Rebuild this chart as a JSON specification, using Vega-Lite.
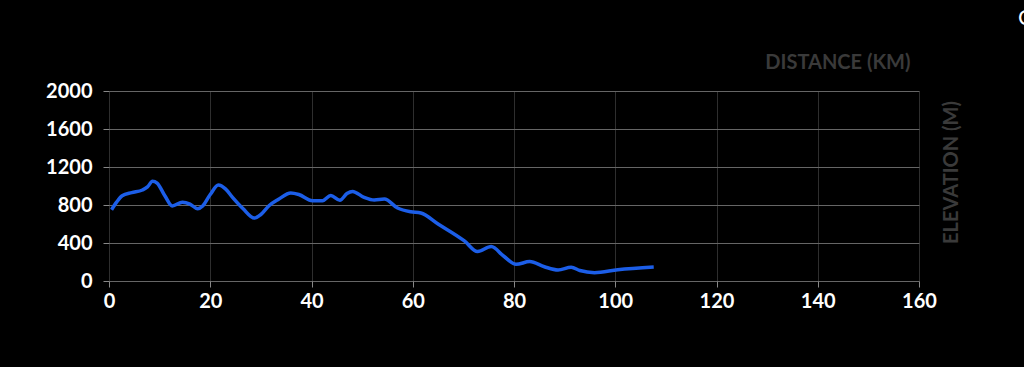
{
  "$schema": "https://vega.github.io/schema/vega-lite/v6.json",
  "width": 810,
  "height": 190,
  "autosize": {"type": "none"},
  "padding": {"left": 109, "top": 91, "right": 105, "bottom": 86},
  "background": "#000000",
  "title": {"text": "C", "anchor": "end", "align": "left", "dx": 99, "offset": 22, "frame": "group", "color": "#ffffff", "fontSize": 22, "font": "Lato", "fontWeight": "normal"},
  "config": {"view": {"stroke": null}},
  "data": {"values": [
    {"km": 0.5, "elev": 750}, {"km": 1.5, "elev": 830}, {"km": 2.6, "elev": 897}, {"km": 4.5, "elev": 930},
    {"km": 6.6, "elev": 958}, {"km": 7.6, "elev": 990}, {"km": 8.6, "elev": 1049}, {"km": 9.5, "elev": 1030},
    {"km": 11, "elev": 900}, {"km": 12.5, "elev": 790}, {"km": 14.5, "elev": 830}, {"km": 16, "elev": 810},
    {"km": 17.5, "elev": 760}, {"km": 18.5, "elev": 790}, {"km": 20, "elev": 910}, {"km": 21.6, "elev": 1010},
    {"km": 23, "elev": 970}, {"km": 24.4, "elev": 880}, {"km": 26.5, "elev": 760}, {"km": 28.7, "elev": 662},
    {"km": 30, "elev": 700}, {"km": 31.6, "elev": 792}, {"km": 33.5, "elev": 860}, {"km": 35.9, "elev": 926},
    {"km": 37.5, "elev": 910}, {"km": 40.2, "elev": 845}, {"km": 42.2, "elev": 845}, {"km": 43.8, "elev": 900},
    {"km": 45.6, "elev": 850}, {"km": 47, "elev": 920}, {"km": 48.1, "elev": 943}, {"km": 50.4, "elev": 880},
    {"km": 52.4, "elev": 852}, {"km": 54.4, "elev": 862}, {"km": 57.0, "elev": 768}, {"km": 59.6, "elev": 728},
    {"km": 61.6, "elev": 715}, {"km": 65, "elev": 600}, {"km": 70.2, "elev": 422}, {"km": 72.8, "elev": 310},
    {"km": 75.5, "elev": 362}, {"km": 78, "elev": 260}, {"km": 80.4, "elev": 176}, {"km": 83.1, "elev": 204},
    {"km": 86, "elev": 150}, {"km": 88.7, "elev": 116}, {"km": 91.3, "elev": 145}, {"km": 93, "elev": 110},
    {"km": 95.9, "elev": 88}, {"km": 100.5, "elev": 119}, {"km": 107.6, "elev": 148}
  ]},
  "mark": {"type": "line", "interpolate": "monotone", "color": "#1c5ee8", "strokeWidth": 3.5},
  "encoding": {
    "x": {
      "field": "km", "type": "quantitative",
      "scale": {"domain": [0, 160], "nice": false},
      "axis": {
        "values": [0, 20, 40, 60, 80, 100, 120, 140, 160],
        "format": "d",
        "title": "DISTANCE (KM)",
        "titleAnchor": "end", "titleAlign": "right", "titleX": 801, "titleY": -219, "titleBaseline": "middle",
        "titleColor": "#3a3a3a", "titleFont": "Lato", "titleFontSize": 20, "titleFontWeight": "bold",
        "labelColor": "#ffffff", "labelFont": "Lato", "labelFontSize": 20, "labelFontWeight": "bold", "labelPadding": 4,
        "labelFlush": false,
        "domain": false, "tickColor": "#888888", "tickSize": 6,
        "grid": true, "gridColor": "#2e2e2e", "gridWidth": 1
      }
    },
    "y": {
      "field": "elev", "type": "quantitative",
      "scale": {"domain": [0, 2000], "nice": false},
      "axis": {
        "values": [0, 400, 800, 1200, 1600, 2000],
        "format": "d",
        "title": "ELEVATION (M)",
        "titleX": 842, "titleY": 81, "titleAngle": 270, "titleAlign": "center", "titleBaseline": "middle",
        "titleColor": "#3a3a3a", "titleFont": "Lato", "titleFontSize": 20, "titleFontWeight": "bold",
        "labelColor": "#ffffff", "labelFont": "Lato", "labelFontSize": 20, "labelFontWeight": "bold", "labelPadding": 11,
        "domain": false, "tickColor": "#888888", "tickSize": 6,
        "grid": true, "gridColor": "#666666", "gridWidth": 1.2
      }
    }
  }
}
